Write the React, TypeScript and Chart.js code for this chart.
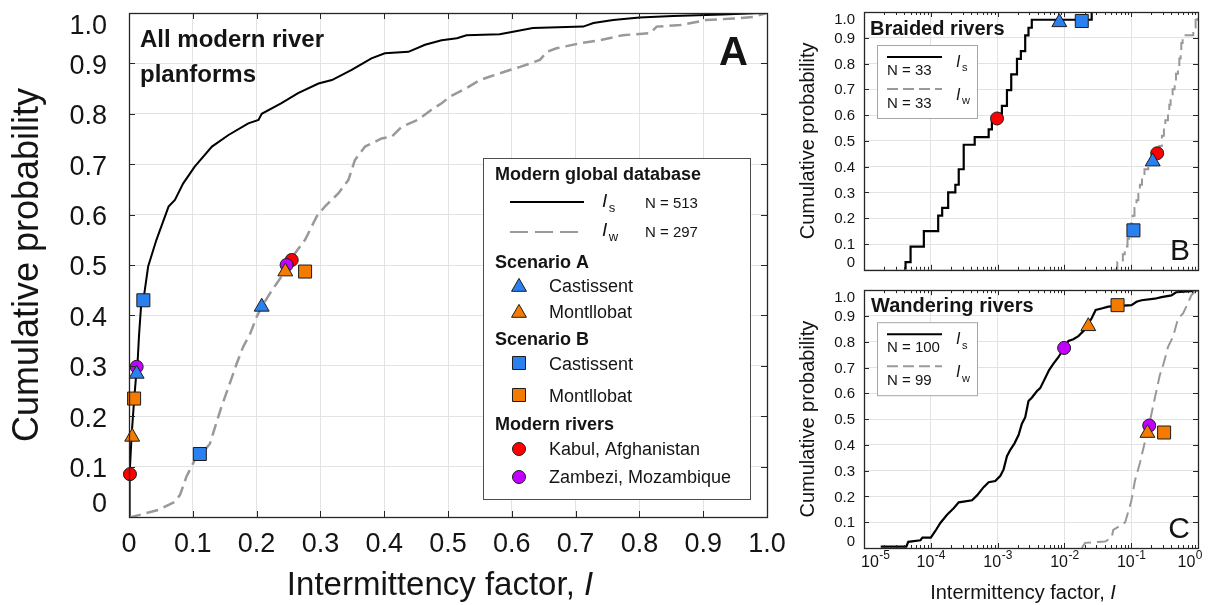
import React, { useEffect, useRef } from 'react';
import { Chart, registerables } from 'chart.js';

Chart.register(...registerables);

const FONT = "'Liberation Sans', Arial, Helvetica, sans-serif";
Chart.defaults.font.family = FONT;

// ---------------- axis ticks ----------------
const probTicks = [0, 0.1, 0.2, 0.3, 0.4, 0.5, 0.6, 0.7, 0.8, 0.9, 1.0];
const linearXTicks = [0, 0.1, 0.2, 0.3, 0.4, 0.5, 0.6, 0.7, 0.8, 0.9, 1.0];
const logXTicks = [1e-5, 1e-4, 1e-3, 1e-2, 1e-1, 1];
const logXExponents = ['-5', '-4', '-3', '-2', '-1', '0'];

type Pair = [number, number];

// ---------------- Panel A: all modern river planforms ----------------
const isAll: Pair[] = [
  [0, 0], [0.001, 0.085], [0.004, 0.16], [0.008, 0.232], [0.011, 0.278], [0.0136, 0.31], [0.0157, 0.36],
  [0.019, 0.42], [0.0225, 0.43], [0.03, 0.497], [0.043, 0.55], [0.062, 0.616], [0.072, 0.629], [0.085, 0.662],
  [0.103, 0.695], [0.13, 0.735], [0.156, 0.758], [0.187, 0.781], [0.203, 0.788], [0.208, 0.8], [0.239, 0.821],
  [0.265, 0.841], [0.297, 0.86], [0.318, 0.867], [0.349, 0.887], [0.38, 0.91], [0.401, 0.92], [0.438, 0.923],
  [0.464, 0.937], [0.49, 0.946], [0.514, 0.95], [0.529, 0.956], [0.581, 0.958], [0.602, 0.963], [0.633, 0.97],
  [0.712, 0.973], [0.728, 0.98], [0.759, 0.986], [0.8, 0.991], [0.853, 0.994], [0.93, 0.997], [0.99, 1.0], [1.0, 1.0],
];
const iwAll: Pair[] = [
  [0, 0], [0.004, 0.0], [0.025, 0.007], [0.046, 0.014], [0.072, 0.03], [0.08, 0.044], [0.09, 0.08], [0.103, 0.113],
  [0.117, 0.13], [0.127, 0.146], [0.135, 0.179], [0.145, 0.219], [0.158, 0.265], [0.169, 0.305], [0.179, 0.338],
  [0.19, 0.364], [0.2, 0.397], [0.208, 0.417], [0.224, 0.45], [0.239, 0.477], [0.26, 0.523], [0.276, 0.55],
  [0.294, 0.596], [0.307, 0.616], [0.328, 0.642], [0.344, 0.669], [0.354, 0.708], [0.37, 0.735], [0.396, 0.751],
  [0.412, 0.755], [0.427, 0.774], [0.453, 0.788], [0.474, 0.808], [0.49, 0.821], [0.503, 0.834], [0.529, 0.851],
  [0.55, 0.867], [0.566, 0.874], [0.597, 0.887], [0.613, 0.893], [0.629, 0.9], [0.644, 0.907], [0.655, 0.923],
  [0.67, 0.93], [0.707, 0.94], [0.738, 0.946], [0.774, 0.956], [0.817, 0.96], [0.827, 0.973], [0.864, 0.976],
  [0.905, 0.986], [0.947, 0.989], [0.978, 0.992], [1.0, 1.0],
];
const kabulA: Pair[] = [[0.0015, 0.085], [0.255, 0.51]];
const zambeziA: Pair[] = [[0.012, 0.298], [0.247, 0.5]];
const scenACastA: Pair[] = [[0.012, 0.284], [0.208, 0.417]];
const scenAMontA: Pair[] = [[0.005, 0.159], [0.245, 0.487]];
const scenBCastA: Pair[] = [[0.0225, 0.43], [0.111, 0.125]];
const scenBMontA: Pair[] = [[0.008, 0.235], [0.276, 0.487]];

// ---------------- Panel B: braided rivers (N = 33) ----------------
const isBraided: Pair[] = [
  [4.19e-5, 0], [4.19e-5, 0.03], [4.98e-5, 0.09], [7.87e-5, 0.15], [1.29e-4, 0.21], [1.48e-4, 0.24],
  [1.82e-4, 0.3], [2.33e-4, 0.33], [2.62e-4, 0.39], [3.11e-4, 0.485], [4.54e-4, 0.515], [7.35e-4, 0.545],
  [8.22e-4, 0.576], [1.04e-3, 0.606], [1.16e-3, 0.636], [1.38e-3, 0.697], [1.6e-3, 0.758], [1.95e-3, 0.818],
  [2.23e-3, 0.848], [2.59e-3, 0.909], [2.9e-3, 0.939], [3.25e-3, 0.97], [2.56e-2, 1.0],
];
const iwBraided: Pair[] = [
  [0.0537, 0], [0.062, 0.03], [0.075, 0.06], [0.08, 0.09], [0.088, 0.12], [0.093, 0.15], [0.1, 0.18],
  [0.105, 0.21], [0.112, 0.24], [0.12, 0.27], [0.128, 0.3], [0.135, 0.33], [0.145, 0.36], [0.158, 0.39],
  [0.18, 0.42], [0.229, 0.45], [0.263, 0.48], [0.288, 0.52], [0.309, 0.55], [0.324, 0.58], [0.355, 0.61],
  [0.372, 0.64], [0.389, 0.67], [0.417, 0.7], [0.447, 0.73], [0.468, 0.76], [0.501, 0.79], [0.525, 0.82],
  [0.55, 0.85], [0.562, 0.88], [0.589, 0.91], [0.85, 0.94], [0.92, 0.97], [0.98, 1.0],
];
const kabulB: Pair[] = [[9.8e-4, 0.587], [0.245, 0.452]];
const scenACastB: Pair[] = [[8.4e-3, 0.96], [0.21, 0.42]];
const scenBCastB: Pair[] = [[1.82e-2, 0.965], [0.108, 0.153]];

// ---------------- Panel C: wandering rivers (N = 100 / 99) ----------------
const isWandering: Pair[] = [
  [1.78e-5, 0.005], [4.3e-5, 0.005], [4.6e-5, 0.024], [7.0e-5, 0.03], [7.5e-5, 0.04], [1.0e-4, 0.04],
  [1.17e-4, 0.066], [1.39e-4, 0.097], [1.75e-4, 0.129], [2.2e-4, 0.154], [2.62e-4, 0.177], [3.1e-4, 0.18],
  [4.14e-4, 0.185], [4.92e-4, 0.204], [6.18e-4, 0.236], [7.35e-4, 0.255], [9.23e-4, 0.26], [1.1e-3, 0.28],
  [1.23e-3, 0.305], [1.38e-3, 0.356], [1.55e-3, 0.381], [1.79e-3, 0.406], [2.06e-3, 0.438], [2.31e-3, 0.482],
  [2.59e-3, 0.507], [2.9e-3, 0.57], [3.25e-3, 0.583], [3.86e-3, 0.608], [4.34e-3, 0.62], [5.14e-3, 0.658],
  [5.9e-3, 0.69], [6.86e-3, 0.715], [8.13e-3, 0.74], [9.66e-3, 0.772], [1.15e-2, 0.803], [1.36e-2, 0.81],
  [1.62e-2, 0.822], [2.03e-2, 0.847], [2.56e-2, 0.891], [2.94e-2, 0.923], [3.61e-2, 0.929], [4.54e-2, 0.936],
  [0.101, 0.942], [0.12, 0.955], [0.143, 0.961], [0.225, 0.967], [0.284, 0.973], [0.4, 0.98], [0.47, 0.992],
  [0.794, 0.996], [1.0, 1.0],
];
const iwWandering: Pair[] = [
  [0.0182, 0], [0.0204, 0.02], [0.0405, 0.025], [0.051, 0.04], [0.0538, 0.07], [0.0718, 0.09], [0.0813, 0.1],
  [0.1, 0.18], [0.1135, 0.26], [0.135, 0.33], [0.16, 0.41], [0.19, 0.49], [0.225, 0.58], [0.268, 0.67],
  [0.301, 0.71], [0.356, 0.78], [0.424, 0.82], [0.502, 0.89], [0.597, 0.91], [0.71, 0.95], [0.794, 0.98],
  [0.933, 1.0],
];
const zambeziC: Pair[] = [[9.9e-3, 0.776], [0.186, 0.475]];
const scenAMontC: Pair[] = [[0.0228, 0.86], [0.175, 0.446]];
const scenBMontC: Pair[] = [[0.0625, 0.942], [0.311, 0.448]];

// ---------------- styles ----------------
const TEXT = '#141414';
const GRID = '#e3e3e3';
const FRAME = '#262626';
const BLUE = '#2b80f0';
const ORANGE = '#f57b00';
const RED = '#ff0000';
const PURPLE = '#c300ff';
const IW_GRAY = '#999999';
const R_CIRC = 6.5;
const R_RECT = 9.2;
const R_TRI = 8.6;

const toPts = (p: Pair[]) => p.map(([x, y]) => ({ x, y }));

function curve(label: string, pairs: Pair[], color: string, width: number, dash: number[], stepped: any, order: number) {
  return {
    label, data: toPts(pairs), showLine: true, borderColor: color, backgroundColor: color,
    borderWidth: width, borderDash: dash, pointRadius: 0, pointHoverRadius: 0, pointHitRadius: 0,
    stepped, tension: 0, fill: false, order, borderCapStyle: 'butt', borderJoinStyle: 'miter',
  };
}

function marker(label: string, pairs: Pair[], style: string, color: string, radius: number, order: number) {
  return {
    label, data: toPts(pairs), showLine: false, pointStyle: style, pointRadius: radius, pointHoverRadius: radius,
    pointBackgroundColor: color, pointBorderColor: '#1c1c1c', pointBorderWidth: 1, backgroundColor: color,
    borderColor: '#1c1c1c', order, clip: false,
  };
}

const fmtProb = (v: any) => (Number(v) === 0 || Number(v) === 1 ? '' : Number(v).toFixed(1));
const fmtX = (v: any) => (Number(v) === 0 ? '0' : Number(v).toFixed(1));

function probAxis(fontSize: number, pad: number, titleSize: number, titlePad: number, width: number, labelOffset: number) {
  return {
    type: 'linear', min: 0, max: 1,
    afterBuildTicks: (s: any) => { s.ticks = probTicks.map((v) => ({ value: v })); },
    ticks: { font: { size: fontSize }, color: TEXT, padding: pad, labelOffset, callback: fmtProb, autoSkip: false },
    grid: { color: GRID, lineWidth: 1, drawTicks: false },
    border: { display: false },
    title: { display: true, text: 'Cumulative probability', color: TEXT, font: { size: titleSize }, padding: { top: titlePad, bottom: 0 } },
    afterFit: (s: any) => { s.width = width; s.paddingTop = 0; s.paddingBottom = 0; },
  };
}

function logXAxis(height: number) {
  return {
    type: 'logarithmic', min: 1e-5, max: 1,
    afterBuildTicks: (s: any) => { s.ticks = logXTicks.map((v) => ({ value: v })); },
    ticks: { display: false },
    grid: { color: GRID, lineWidth: 1, drawTicks: false },
    border: { display: false },
    afterFit: (s: any) => { s.height = height; s.paddingLeft = 0; s.paddingRight = 0; },
  };
}

// ---------------- drawing helpers (frame, text, legend symbols) ----------------
function drawFrame(chart: any, logX: boolean, majorLen: number, minorLen: number) {
  const { ctx, chartArea: a } = chart;
  const xs = chart.scales.x;
  const ys = chart.scales.y;
  ctx.save();
  ctx.strokeStyle = FRAME;
  ctx.lineWidth = 1;
  ctx.beginPath();
  for (const v of probTicks) {
    const y = Math.round(ys.getPixelForValue(v)) + 0.5;
    ctx.moveTo(a.left, y); ctx.lineTo(a.left + majorLen, y);
    ctx.moveTo(a.right, y); ctx.lineTo(a.right - majorLen, y);
  }
  const xt = logX ? logXTicks : linearXTicks;
  for (const v of xt) {
    const x = Math.round(xs.getPixelForValue(v)) + 0.5;
    ctx.moveTo(x, a.bottom); ctx.lineTo(x, a.bottom - majorLen);
    ctx.moveTo(x, a.top); ctx.lineTo(x, a.top + majorLen);
  }
  if (logX) {
    for (let i = 0; i < logXTicks.length - 1; i++) {
      for (let m = 2; m <= 9; m++) {
        const x = Math.round(xs.getPixelForValue(logXTicks[i] * m)) + 0.5;
        ctx.moveTo(x, a.bottom); ctx.lineTo(x, a.bottom - minorLen);
        ctx.moveTo(x, a.top); ctx.lineTo(x, a.top + minorLen);
      }
    }
  }
  ctx.stroke();
  ctx.lineWidth = 1.3;
  ctx.strokeRect(Math.round(a.left) + 0.5, Math.round(a.top) + 0.5, Math.round(a.right - a.left), Math.round(a.bottom - a.top));
  ctx.restore();
}

function drawInnerYLabels(chart: any, size: number, pad: number) {
  const { ctx, chartArea: a } = chart;
  ctx.save();
  ctx.fillStyle = TEXT;
  ctx.font = `${size}px ${FONT}`;
  ctx.textAlign = 'right';
  ctx.textBaseline = 'top';
  ctx.fillText('1.0', a.left - pad, a.top);
  ctx.textBaseline = 'bottom';
  ctx.fillText('0', a.left - pad, a.bottom + 1);
  ctx.restore();
}

function drawXTitle(ctx: any, cx: number, baseline: number, size: number) {
  ctx.save();
  ctx.fillStyle = TEXT;
  ctx.textAlign = 'left';
  ctx.textBaseline = 'alphabetic';
  const main = 'Intermittency factor, ';
  ctx.font = `${size}px ${FONT}`;
  const w1 = ctx.measureText(main).width;
  ctx.font = `italic ${size}px ${FONT}`;
  const w2 = ctx.measureText('I').width;
  const x0 = cx - (w1 + w2) / 2;
  ctx.font = `${size}px ${FONT}`;
  ctx.fillText(main, x0, baseline);
  ctx.font = `italic ${size}px ${FONT}`;
  ctx.fillText('I', x0 + w1, baseline);
  ctx.restore();
}

function drawISub(ctx: any, x: number, baseline: number, sub: string, size: number) {
  ctx.save();
  ctx.fillStyle = TEXT;
  ctx.textAlign = 'left';
  ctx.textBaseline = 'alphabetic';
  ctx.font = `italic ${size}px ${FONT}`;
  ctx.fillText('I', x, baseline);
  const w = ctx.measureText('I').width;
  ctx.font = `${Math.round(size * 0.66)}px ${FONT}`;
  ctx.fillText(sub, x + w + 1.5, baseline + size * 0.28);
  ctx.restore();
}

function drawSymbol(ctx: any, style: string, x: number, y: number, r: number, color: string) {
  ctx.save();
  ctx.fillStyle = color;
  ctx.strokeStyle = '#1c1c1c';
  ctx.lineWidth = 1;
  ctx.beginPath();
  if (style === 'circle') {
    ctx.arc(x, y, r, 0, Math.PI * 2);
  } else if (style === 'rect') {
    const s = r * Math.SQRT1_2;
    ctx.rect(x - s, y - s, 2 * s, 2 * s);
  } else {
    const k = Math.sin((2 * Math.PI) / 3) * r;
    ctx.moveTo(x, y - r);
    ctx.lineTo(x + k, y + r / 2);
    ctx.lineTo(x - k, y + r / 2);
    ctx.closePath();
  }
  ctx.fill();
  ctx.stroke();
  ctx.restore();
}

function hLine(ctx: any, x1: number, x2: number, y: number, color: string, width: number, dash: number[]) {
  ctx.save();
  ctx.strokeStyle = color;
  ctx.lineWidth = width;
  ctx.setLineDash(dash);
  ctx.beginPath();
  ctx.moveTo(x1, y);
  ctx.lineTo(x2, y);
  ctx.stroke();
  ctx.restore();
}

function text(ctx: any, s: string, x: number, y: number, font: string, align = 'left') {
  ctx.save();
  ctx.fillStyle = TEXT;
  ctx.font = font;
  ctx.textAlign = align;
  ctx.textBaseline = 'alphabetic';
  ctx.fillText(s, x, y);
  ctx.restore();
}

function drawLegendA(ctx: any, bx: number, by: number) {
  ctx.save();
  ctx.fillStyle = '#ffffff';
  ctx.fillRect(bx, by, 267, 341);
  ctx.strokeStyle = '#4d4d4d';
  ctx.lineWidth = 1;
  ctx.strokeRect(bx + 0.5, by + 0.5, 267, 341);
  ctx.restore();
  const hdr = `bold 18px ${FONT}`;
  const item = `18px ${FONT}`;
  const small = `15px ${FONT}`;
  text(ctx, 'Modern global database', bx + 12, by + 22, hdr);
  hLine(ctx, bx + 27, bx + 101, by + 44, '#000', 2, []);
  drawISub(ctx, bx + 119, by + 49, 's', 19);
  text(ctx, 'N = 513', bx + 162, by + 50, small);
  hLine(ctx, bx + 27, bx + 101, by + 74, IW_GRAY, 2, [18, 7]);
  drawISub(ctx, bx + 119, by + 78, 'w', 19);
  text(ctx, 'N = 297', bx + 162, by + 79, small);
  text(ctx, 'Scenario A', bx + 12, by + 110, hdr);
  drawSymbol(ctx, 'triangle', bx + 36, by + 129, R_TRI, BLUE);
  text(ctx, 'Castissent', bx + 66, by + 134, item);
  drawSymbol(ctx, 'triangle', bx + 36, by + 155, R_TRI, ORANGE);
  text(ctx, 'Montllobat', bx + 66, by + 160, item);
  text(ctx, 'Scenario B', bx + 12, by + 187, hdr);
  drawSymbol(ctx, 'rect', bx + 36, by + 205, R_RECT, BLUE);
  text(ctx, 'Castissent', bx + 66, by + 212, item);
  drawSymbol(ctx, 'rect', bx + 36, by + 237, R_RECT, ORANGE);
  text(ctx, 'Montllobat', bx + 66, by + 244, item);
  text(ctx, 'Modern rivers', bx + 12, by + 272, hdr);
  drawSymbol(ctx, 'circle', bx + 36, by + 291, R_CIRC, RED);
  text(ctx, 'Kabul, Afghanistan', bx + 66, by + 297, item);
  drawSymbol(ctx, 'circle', bx + 36, by + 319, R_CIRC, PURPLE);
  text(ctx, 'Zambezi, Mozambique', bx + 66, by + 325, item);
}

function drawSmallLegend(ctx: any, bx: number, by: number, nS: string, nW: string) {
  ctx.save();
  ctx.fillStyle = '#ffffff';
  ctx.fillRect(bx, by, 100, 73);
  ctx.strokeStyle = '#a6a6a6';
  ctx.lineWidth = 1;
  ctx.strokeRect(bx + 0.5, by + 0.5, 100, 73);
  ctx.restore();
  const small = `15px ${FONT}`;
  hLine(ctx, bx + 10, bx + 65, by + 12, '#000', 2, []);
  text(ctx, nS, bx + 10, by + 30, small);
  drawISub(ctx, bx + 79, by + 22, 's', 16);
  hLine(ctx, bx + 10, bx + 65, by + 44, IW_GRAY, 2, [11, 5]);
  text(ctx, nW, bx + 10, by + 63, small);
  drawISub(ctx, bx + 79, by + 55, 'w', 16);
}

function drawLogTickLabels(chart: any) {
  const { ctx, chartArea: a } = chart;
  const xs = chart.scales.x;
  ctx.save();
  ctx.fillStyle = TEXT;
  ctx.textAlign = 'left';
  ctx.textBaseline = 'alphabetic';
  logXTicks.forEach((v, i) => {
    const px = xs.getPixelForValue(v);
    ctx.font = `16px ${FONT}`;
    const w1 = ctx.measureText('10').width;
    ctx.font = `12px ${FONT}`;
    const w2 = ctx.measureText(logXExponents[i]).width;
    let x0 = px - (w1 + w2) / 2;
    x0 = Math.max(x0, a.left - 3);
    x0 = Math.min(x0, a.right + 4 - (w1 + w2));
    ctx.font = `16px ${FONT}`;
    ctx.fillText('10', x0, a.bottom + 19);
    ctx.font = `12px ${FONT}`;
    ctx.fillText(logXExponents[i], x0 + w1 + 0.5, a.bottom + 11);
  });
  ctx.restore();
}

// ---------------- overlay plugins ----------------
const overlayA = {
  id: 'overlayA',
  afterDraw(chart: any) {
    const { ctx, chartArea: a } = chart;
    drawFrame(chart, false, 6, 0);
    drawInnerYLabels(chart, 27, 22);
    text(ctx, 'All modern river', a.left + 11, a.top + 34, `bold 24px ${FONT}`);
    text(ctx, 'planforms', a.left + 11, a.top + 69, `bold 24px ${FONT}`);
    text(ctx, 'A', a.right - 19, a.top + 52, `bold 40px ${FONT}`, 'right');
    drawXTitle(ctx, (a.left + a.right) / 2 - 8, a.bottom + 78, 33);
    drawLegendA(ctx, a.left + 354, a.top + 145);
  },
};

const overlayB = {
  id: 'overlayB',
  afterDraw(chart: any) {
    const { ctx, chartArea: a } = chart;
    drawFrame(chart, true, 5, 3);
    drawInnerYLabels(chart, 15, 9);
    text(ctx, 'Braided rivers', a.left + 6, a.top + 23, `bold 20px ${FONT}`);
    text(ctx, 'B', a.right - 8, a.bottom - 10, `30px ${FONT}`, 'right');
    drawSmallLegend(ctx, a.left + 13, a.top + 33, 'N = 33', 'N = 33');
  },
};

const overlayC = {
  id: 'overlayC',
  afterDraw(chart: any) {
    const { ctx, chartArea: a } = chart;
    drawFrame(chart, true, 5, 3);
    drawInnerYLabels(chart, 15, 9);
    drawLogTickLabels(chart);
    text(ctx, 'Wandering rivers', a.left + 7, a.top + 22, `bold 20px ${FONT}`);
    text(ctx, 'C', a.right - 8, a.bottom - 10, `30px ${FONT}`, 'right');
    drawSmallLegend(ctx, a.left + 13, a.top + 32, 'N = 100', 'N = 99');
    drawXTitle(ctx, (a.left + a.right) / 2 - 8, a.bottom + 51, 20);
  },
};

const baseOptions = {
  responsive: false,
  maintainAspectRatio: false,
  animation: false,
  events: [],
  plugins: { legend: { display: false }, tooltip: { enabled: false }, title: { display: false } },
};

function makeA(canvas: HTMLCanvasElement) {
  return new Chart(canvas, {
    type: 'scatter',
    data: {
      datasets: [
        marker('Scenario B – Montllobat', scenBMontA, 'rect', ORANGE, R_RECT, 1),
        marker('Scenario B – Castissent', scenBCastA, 'rect', BLUE, R_RECT, 1),
        marker('Scenario A – Montllobat', scenAMontA, 'triangle', ORANGE, R_TRI, 2),
        marker('Scenario A – Castissent', scenACastA, 'triangle', BLUE, R_TRI, 2),
        marker('Zambezi, Mozambique', zambeziA, 'circle', PURPLE, R_CIRC, 3),
        marker('Kabul, Afghanistan', kabulA, 'circle', RED, R_CIRC, 4),
        curve('Iw (N = 297)', iwAll, IW_GRAY, 2.5, [12, 6], false, 5),
        curve('Is (N = 513)', isAll, '#000000', 2, [], false, 6),
      ] as any,
    },
    options: {
      ...baseOptions,
      layout: { padding: { top: 13, right: 33, left: 0, bottom: 0 } },
      scales: {
        x: {
          type: 'linear', min: 0, max: 1,
          afterBuildTicks: (s: any) => { s.ticks = linearXTicks.map((v) => ({ value: v })); },
          ticks: { font: { size: 27 }, color: TEXT, padding: 11, maxRotation: 0, autoSkip: false, callback: fmtX },
          grid: { color: GRID, lineWidth: 1, drawTicks: false },
          border: { display: false },
          afterFit: (s: any) => { s.height = 88; s.paddingLeft = 0; s.paddingRight = 0; },
        },
        y: probAxis(27, 22, 36, 6, 129, 3),
      },
    } as any,
    plugins: [overlayA],
  });
}

function makeB(canvas: HTMLCanvasElement) {
  return new Chart(canvas, {
    type: 'scatter',
    data: {
      datasets: [
        marker('Scenario B – Castissent', scenBCastB, 'rect', BLUE, R_RECT, 1),
        marker('Scenario A – Castissent', scenACastB, 'triangle', BLUE, R_TRI, 2),
        marker('Kabul, Afghanistan', kabulB, 'circle', RED, R_CIRC, 4),
        curve('Iw (N = 33)', iwBraided, IW_GRAY, 2, [12, 6], 'before', 5),
        curve('Is (N = 33)', isBraided, '#000000', 2.2, [], 'before', 6),
      ] as any,
    },
    options: {
      ...baseOptions,
      layout: { padding: { top: 12, right: 12, left: 0, bottom: 0 } },
      scales: { x: logXAxis(4), y: probAxis(15, 9, 20, 16, 84, 1) },
    } as any,
    plugins: [overlayB],
  });
}

function makeC(canvas: HTMLCanvasElement) {
  return new Chart(canvas, {
    type: 'scatter',
    data: {
      datasets: [
        marker('Scenario B – Montllobat', scenBMontC, 'rect', ORANGE, R_RECT, 1),
        marker('Scenario A – Montllobat', scenAMontC, 'triangle', ORANGE, R_TRI, 2),
        marker('Zambezi, Mozambique', zambeziC, 'circle', PURPLE, R_CIRC, 3),
        curve('Iw (N = 99)', iwWandering, IW_GRAY, 2, [12, 6], false, 5),
        curve('Is (N = 100)', isWandering, '#000000', 2.2, [], false, 6),
      ] as any,
    },
    options: {
      ...baseOptions,
      layout: { padding: { top: 3, right: 12, left: 0, bottom: 0 } },
      scales: { x: logXAxis(57), y: probAxis(15, 9, 20, 16, 84, 1) },
    } as any,
    plugins: [overlayC],
  });
}

export default function App() {
  const refA = useRef<HTMLCanvasElement>(null);
  const refB = useRef<HTMLCanvasElement>(null);
  const refC = useRef<HTMLCanvasElement>(null);

  useEffect(() => {
    const charts = [makeA(refA.current!), makeB(refB.current!), makeC(refC.current!)];
    return () => charts.forEach((c) => c.destroy());
  }, []);

  return (
    <div style={{ position: 'fixed', left: 0, top: 0, width: 1210, height: 605, background: '#ffffff', overflow: 'hidden' }}>
      <canvas ref={refA} width={800} height={605} style={{ position: 'absolute', left: 0, top: 0, width: 800, height: 605 }} />
      <canvas ref={refB} width={430} height={280} style={{ position: 'absolute', left: 780, top: 0, width: 430, height: 280 }} />
      <canvas ref={refC} width={430} height={325} style={{ position: 'absolute', left: 780, top: 280, width: 430, height: 325 }} />
    </div>
  );
}
